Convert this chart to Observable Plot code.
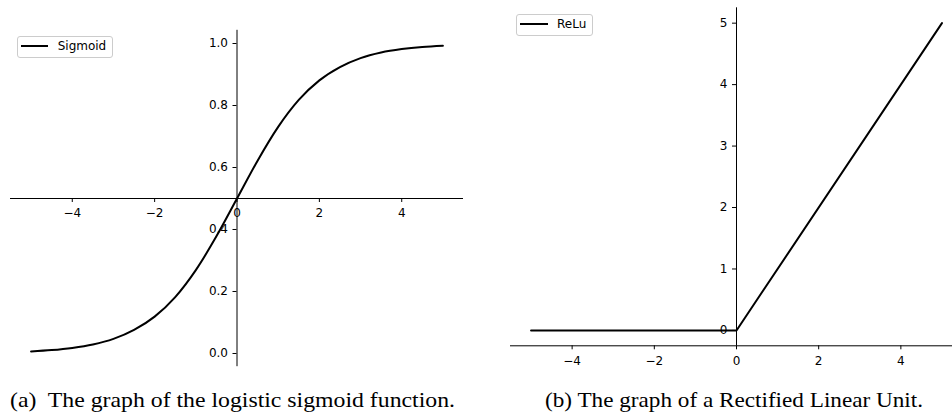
<!DOCTYPE html>
<html>
<head>
<meta charset="utf-8">
<script src="https://cdn.jsdelivr.net/npm/d3@7"></script>
<script src="https://cdn.jsdelivr.net/npm/@observablehq/plot@0.6"></script>
<style>
  html, body { margin: 0; padding: 0; background: #fff; }
  #root { position: relative; width: 952px; height: 414px; overflow: hidden; background: #fff; }
  .panel { position: absolute; top: 0; }
  .legend { position: absolute; box-sizing: border-box; border: 1px solid #cccccc; border-radius: 3px;
            background: rgba(255,255,255,0.8); font-family: "DejaVu Sans", sans-serif; font-size: 12px; color: #000; }
  .legend .sample { position: absolute; height: 2px; background: #000; }
  .legend .label { position: absolute; line-height: 14px; white-space: nowrap; }
  #captions { position: absolute; left: 0; top: 0; pointer-events: none; }
</style>
</head>
<body>
<div id="root"></div>
<script>
// ---------- data ----------
const sigX = [-5, -4.5, -4, -3.5, -3, -2.5, -2, -1.5, -1, -0.5, 0, 0.5, 1, 1.5, 2, 2.5, 3, 3.5, 4, 4.5, 5];
const sigY = [0.0067, 0.011, 0.018, 0.029, 0.047, 0.076, 0.119, 0.182, 0.269, 0.378, 0.5, 0.622, 0.731, 0.818, 0.881, 0.924, 0.953, 0.971, 0.982, 0.989, 0.993];
const reluX = [-5, 0, 5];
const reluY = [0, 0, 5];
const xTicks = [-4, -2, 0, 2, 4];
const sigYTicks = [0.0, 0.2, 0.4, 0.6, 0.8, 1.0];
const reluYTicks = [0, 1, 2, 3, 4, 5];
const legendA = "Sigmoid";
const legendB = "ReLu";
const captionA = "(a)\u00a0 The graph of the logistic sigmoid function.";
const captionB = "(b) The graph of a Rectified Linear Unit.";

const root = document.getElementById("root");
const font = "DejaVu Sans";
const fmtMinus = d => (d < 0 ? "\u2212" + Math.abs(d) : String(d));
const tickPx = 4;

function panel({data, curve, xDomain, xRange, yDomain, yRange, xSpineY, ySpineX, yTicks, yFmt, width, height}) {
  const pxX = (xRange[1] - xRange[0]) / (xDomain[1] - xDomain[0]);
  const pxY = (yRange[0] - yRange[1]) / (yDomain[1] - yDomain[0]);
  const tX = tickPx / pxX, tY = tickPx / pxY;
  return Plot.plot({
    width, height,
    style: {background: "transparent", overflow: "hidden"},
    x: {domain: xDomain, range: xRange, axis: null},
    y: {domain: yDomain, range: yRange, axis: null},
    marks: [
      // spines
      Plot.ruleY([xSpineY], {y: d => d, x1: xDomain[0], x2: xDomain[1], stroke: "#000", strokeWidth: 1}),
      Plot.ruleX([ySpineX], {x: d => d, y1: yDomain[0], y2: yDomain[1], stroke: "#000", strokeWidth: 1}),
      // x ticks
      Plot.ruleX(xTicks, {x: d => d, y1: xSpineY, y2: xSpineY - tY, stroke: "#000", strokeWidth: 1}),
      Plot.text(xTicks, {x: d => d, y: xSpineY, text: fmtMinus, dy: 15, fontSize: 12, fontFamily: font, fill: "#000"}),
      // y ticks
      Plot.ruleY(yTicks, {y: d => d, x1: ySpineX, x2: ySpineX - tX, stroke: "#000", strokeWidth: 1}),
      Plot.text(yTicks, {y: d => d, x: ySpineX, text: yFmt, dx: -9, textAnchor: "end", fontSize: 12, fontFamily: font, fill: "#000"}),
      // curve
      Plot.line(data, {x: "x", y: "y", stroke: "#000", strokeWidth: 2, curve})
    ]
  });
}

const sigData = sigX.map((x, i) => ({x, y: sigY[i]}));
const reluData = reluX.map((x, i) => ({x, y: reluY[i]}));

const left = panel({
  data: sigData, curve: "monotone-x", width: 476, height: 372,
  xDomain: [-5.5, 5.5], xRange: [10, 463],
  yDomain: [-0.0426, 1.0426], yRange: [366.2, 29.8],
  xSpineY: 0.5, ySpineX: 0, yTicks: sigYTicks, yFmt: d => d.toFixed(1)
});
left.classList.add("panel");
left.style.left = "0px";
root.appendChild(left);

const right = panel({
  data: reluData, curve: "linear", width: 476, height: 372,
  xDomain: [-5.5, 5.5], xRange: [34, 486],
  yDomain: [-0.25, 5.25], yRange: [345.3, 7.3],
  xSpineY: -0.25, ySpineX: 0, yTicks: reluYTicks, yFmt: d => String(d)
});
right.classList.add("panel");
right.style.left = "476px";
root.appendChild(right);

// legends
function legend(label, box, sample, textX) {
  const div = document.createElement("div");
  div.className = "legend";
  Object.assign(div.style, {left: box[0] + "px", top: box[1] + "px", width: box[2] + "px", height: box[3] + "px"});
  const s = document.createElement("div");
  s.className = "sample";
  Object.assign(s.style, {left: (sample[0] - box[0] - 1) + "px", width: (sample[1] - sample[0]) + "px", top: (sample[2] - box[1] - 2) + "px"});
  const t = document.createElement("div");
  t.className = "label";
  t.textContent = label;
  Object.assign(t.style, {left: (textX - box[0] - 1) + "px", top: (sample[2] - box[1] - 8) + "px"});
  div.appendChild(s); div.appendChild(t);
  root.appendChild(div);
}
legend(legendA, [16.7, 35.7, 96.6, 22], [21.3, 47.7, 46], 57.7);
legend(legendB, [516.3, 14.3, 76.4, 22], [520.3, 547.7, 24.3], 557);

// captions
const svg = d3.select(root).append("svg").attr("id", "captions").attr("width", 952).attr("height", 414);
const caps = [
  {text: captionA, x: 10, len: 445},
  {text: captionB, x: 545, len: 378}
];
svg.selectAll("text").data(caps).join("text")
  .attr("x", d => d.x).attr("y", 407)
  .attr("textLength", d => d.len).attr("lengthAdjust", "spacingAndGlyphs")
  .attr("font-family", "Liberation Serif, serif").attr("font-size", 22).attr("fill", "#000")
  .text(d => d.text);
</script>
</body>
</html>
